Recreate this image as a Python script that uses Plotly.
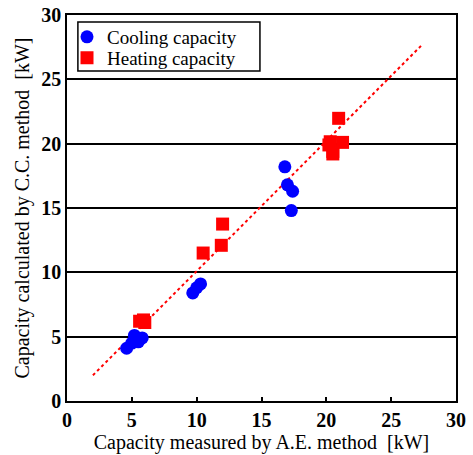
import plotly.graph_objects as go

cool_x = [4.6, 5.0, 5.2, 5.5, 5.8, 9.7, 10.0, 10.3, 16.8, 17.0, 17.4, 17.3]
cool_y = [4.1, 4.5, 5.1, 4.6, 4.9, 8.4, 8.8, 9.1, 18.2, 16.8, 16.3, 14.8]
heat_x = [5.6, 5.9, 6.0, 10.5, 11.9, 12.0, 20.5, 20.2, 20.3, 20.5, 20.95, 21.25]
heat_y = [6.2, 6.3, 6.1, 11.5, 12.1, 13.75, 19.2, 19.9, 20.15, 19.4, 21.97, 20.1]
line_x = [2, 27.3]
line_y = [2, 27.6]
tick_vals = [0, 5, 10, 15, 20, 25, 30]
tick_text = ["<b>%d</b>" % v for v in tick_vals]

serif = "Liberation Serif"

fig = go.Figure()
fig.add_trace(go.Scatter(x=line_x, y=line_y, mode="lines",
                         line=dict(color="red", width=2, dash="dot"),
                         showlegend=False, hoverinfo="skip"))
fig.add_trace(go.Scatter(x=cool_x, y=cool_y, mode="markers", name="Cooling capacity",
                         marker=dict(symbol="circle", size=13, color="#0000ff"),
                         legend="legend"))
fig.add_trace(go.Scatter(x=heat_x, y=heat_y, mode="markers", name="Heating capacity",
                         marker=dict(symbol="square", size=13, color="#ff0000"),
                         legend="legend2"))

axis_common = dict(
    range=[0, 30], tickvals=tick_vals, ticktext=tick_text,
    ticks="inside", ticklen=4, tickwidth=1.5, tickcolor="black",
    showline=True, linecolor="black", linewidth=1.5, mirror=True,
    tickfont=dict(family=serif, size=20, color="black"),
    zeroline=False, automargin=False,
)

leg_common = dict(xanchor="left", yanchor="middle", borderwidth=0,
                  bgcolor="rgba(0,0,0,0)",
                  font=dict(family=serif, size=19, color="black"),
                  itemwidth=30)

fig.update_layout(
    width=473, height=455,
    margin=dict(l=67, r=17, t=15, b=54, autoexpand=False),
    paper_bgcolor="white", plot_bgcolor="white",
    font=dict(family=serif, color="black"),
    xaxis=dict(**axis_common, showgrid=False,
               title=dict(text="Capacity measured by A.E. method  [kW]",
                          font=dict(family=serif, size=20, color="black"), standoff=2)),
    yaxis=dict(**axis_common, showgrid=True, gridcolor="black", gridwidth=1.5,
               title=dict(text="Capacity calculated by C.C. method  [kW]",
                          font=dict(family=serif, size=20, color="black"), standoff=6)),
    legend=dict(x=0.0, y=0.943, **leg_common),
    legend2=dict(x=0.0, y=0.889, **leg_common),
    showlegend=True,
    shapes=[dict(type="rect", xref="paper", yref="paper",
                 x0=0.028, x1=0.496, y0=0.855, y1=0.982,
                 line=dict(color="black", width=1.5), fillcolor="white", layer="below")],
)

fig.write_html("out.html")
